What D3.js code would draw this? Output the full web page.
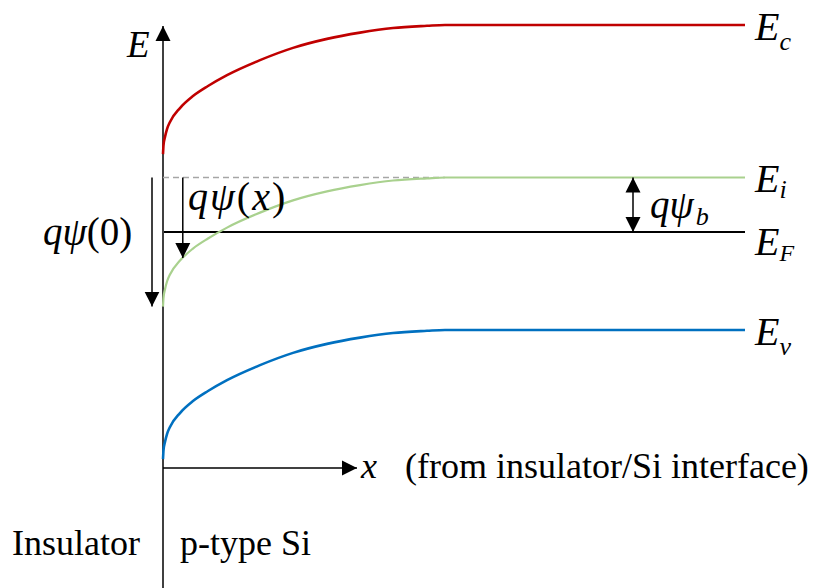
<!DOCTYPE html>
<html>
<head>
<meta charset="utf-8">
<script src="https://cdn.jsdelivr.net/npm/d3@7"></script>
<style>
  body { margin: 0; background: #fff; }
  svg text { font-family: "Liberation Serif", "Times New Roman", serif; fill: #000; }
</style>
</head>
<body>
<div id="chart"></div>
<script>
// distance from insulator/Si interface (arbitrary units) and band bending q*psi(x) in eV
const xPos    = [0, 0.09, 0.34, 0.69, 1.2, 2.92, 5.15, 7.73, 11.0, 16.67, 22.34, 28.18, 33.85, 39.52, 45.36, 48.45, 100];
const bending = [0.474, 0.441, 0.411, 0.382, 0.356, 0.305, 0.261, 0.224, 0.184, 0.129, 0.084, 0.051, 0.028, 0.011, 0.003, 0, 0];

// flat-band energies in the bulk (eV, relative to Ev)
const bandNames  = ["c", "i", "v"];
const bandLevels = [1.12, 0.56, 0];
const bandColors = ["#c00000", "#a9d18e", "#0070c0"];
const fermiLevel = 0.36;

let width = 825;
let height = 588;

let svg = d3.select("#chart")
  .append("svg")
  .attr("width", width)
  .attr("height", height);

let x = d3.scaleLinear().domain([0, 100]).range([163, 745]);
let y = d3.scaleLinear().domain([0, 1.12]).range([330, 25]);

// arrow heads
let defs = svg.append("defs");
defs.append("marker")
  .attr("id", "head")
  .attr("markerUnits", "userSpaceOnUse")
  .attr("markerWidth", 16).attr("markerHeight", 16)
  .attr("viewBox", "0 0 16 16")
  .attr("refX", 15).attr("refY", 8)
  .attr("orient", "auto-start-reverse")
  .append("path")
  .attr("d", "M0,0.5 L15,8 L0,15.5 Z")
  .attr("fill", "#000");

let x0 = x(0);
let yAxisPos = 468;

// vertical E axis
svg.append("line")
  .attr("x1", x0).attr("y1", height)
  .attr("x2", x0).attr("y2", 26)
  .attr("stroke", "#000").attr("stroke-width", 1.5)
  .attr("marker-end", "url(#head)");

// horizontal x axis
svg.append("line")
  .attr("x1", x0).attr("y1", yAxisPos)
  .attr("x2", 357).attr("y2", yAxisPos)
  .attr("stroke", "#000").attr("stroke-width", 1.5)
  .attr("marker-end", "url(#head)");

// dashed intrinsic level extension
svg.append("line")
  .attr("x1", x0).attr("x2", x(48.45))
  .attr("y1", y(bandLevels[1])).attr("y2", y(bandLevels[1]))
  .attr("stroke", "#a6a6a6").attr("stroke-width", 1.5)
  .attr("stroke-dasharray", "6,4");

// Fermi level
svg.append("line")
  .attr("x1", x0 + 1).attr("x2", x(100))
  .attr("y1", y(fermiLevel)).attr("y2", y(fermiLevel))
  .attr("stroke", "#000").attr("stroke-width", 2);

// bands (bent downward toward the interface)
let bandLine = d3.line()
  .x(d => x(d[0]))
  .y(d => y(d[1]))
  .curve(d3.curveMonotoneX);

bandLevels.forEach((lvl, i) => {
  let pts = xPos.map((xx, k) => [xx, lvl - bending[k]]);
  svg.append("path")
    .datum(pts)
    .attr("d", bandLine)
    .attr("fill", "none")
    .attr("stroke", bandColors[i])
    .attr("stroke-width", i == 1 ? 2.2 : 2.6);
});

// band labels
const labelBase = [40, 192, 255, 345];
const labelSub = ["c", "i", "F", "v"];
const subDy = [10, 6, 6, 10];
labelSub.forEach((s, i) => {
  let t = svg.append("text")
    .attr("x", 755).attr("y", labelBase[i])
    .style("font-size", "40px").style("font-style", "italic");
  t.append("tspan").text("E");
  t.append("tspan")
    .attr("dy", subDy[i])
    .style("font-size", s == "F" ? "24px" : "26px")
    .text(s);
});

// E axis label
svg.append("text")
  .attr("x", 127).attr("y", 57)
  .style("font-size", "37px").style("font-style", "italic")
  .text("E");

// x axis label
svg.append("text")
  .attr("x", 361).attr("y", 478)
  .style("font-size", "36px").style("font-style", "italic")
  .text("x");
svg.append("text")
  .attr("x", 405).attr("y", 478)
  .style("font-size", "36px")
  .text("(from insulator/Si interface)");

let yi = y(bandLevels[1]);

// q psi(0) arrow
svg.append("line")
  .attr("x1", 152).attr("x2", 152)
  .attr("y1", yi).attr("y2", y(bandLevels[1] - bending[0]))
  .attr("stroke", "#000").attr("stroke-width", 1.5)
  .attr("marker-end", "url(#head)");
let t0 = svg.append("text").attr("x", 43).attr("y", 245).style("font-size", "39px");
t0.append("tspan").style("font-style", "italic").text("qψ");
t0.append("tspan").text("(0)");

// q psi(x) arrow at x ~ 3.4
let xa = 3.4;
let psiA = d3.interpolateNumber(bending[5], bending[6])((xa - xPos[5]) / (xPos[6] - xPos[5]));
svg.append("line")
  .attr("x1", x(xa)).attr("x2", x(xa))
  .attr("y1", yi).attr("y2", y(bandLevels[1] - psiA))
  .attr("stroke", "#000").attr("stroke-width", 1.5)
  .attr("marker-end", "url(#head)");
let tx = svg.append("text").attr("x", 188).attr("y", 210)
  .style("font-size", "40px").style("letter-spacing", "2px");
tx.append("tspan").style("font-style", "italic").text("qψ");
tx.append("tspan").text("(");
tx.append("tspan").style("font-style", "italic").text("x");
tx.append("tspan").text(")");

// q psi_b double arrow
svg.append("line")
  .attr("x1", 633).attr("x2", 633)
  .attr("y1", yi).attr("y2", y(fermiLevel))
  .attr("stroke", "#000").attr("stroke-width", 1.5)
  .attr("marker-start", "url(#head)")
  .attr("marker-end", "url(#head)");
let tb = svg.append("text").attr("x", 650).attr("y", 218)
  .style("font-size", "39px").style("font-style", "italic");
tb.append("tspan").text("qψ");
tb.append("tspan").attr("dx", 2).attr("dy", 7).style("font-size", "26px").text("b");

// region labels
svg.append("text")
  .attr("x", 12).attr("y", 555)
  .style("font-size", "36px")
  .text("Insulator");
svg.append("text")
  .attr("x", 180).attr("y", 555)
  .style("font-size", "36px")
  .text("p-type Si");
</script>
</body>
</html>
